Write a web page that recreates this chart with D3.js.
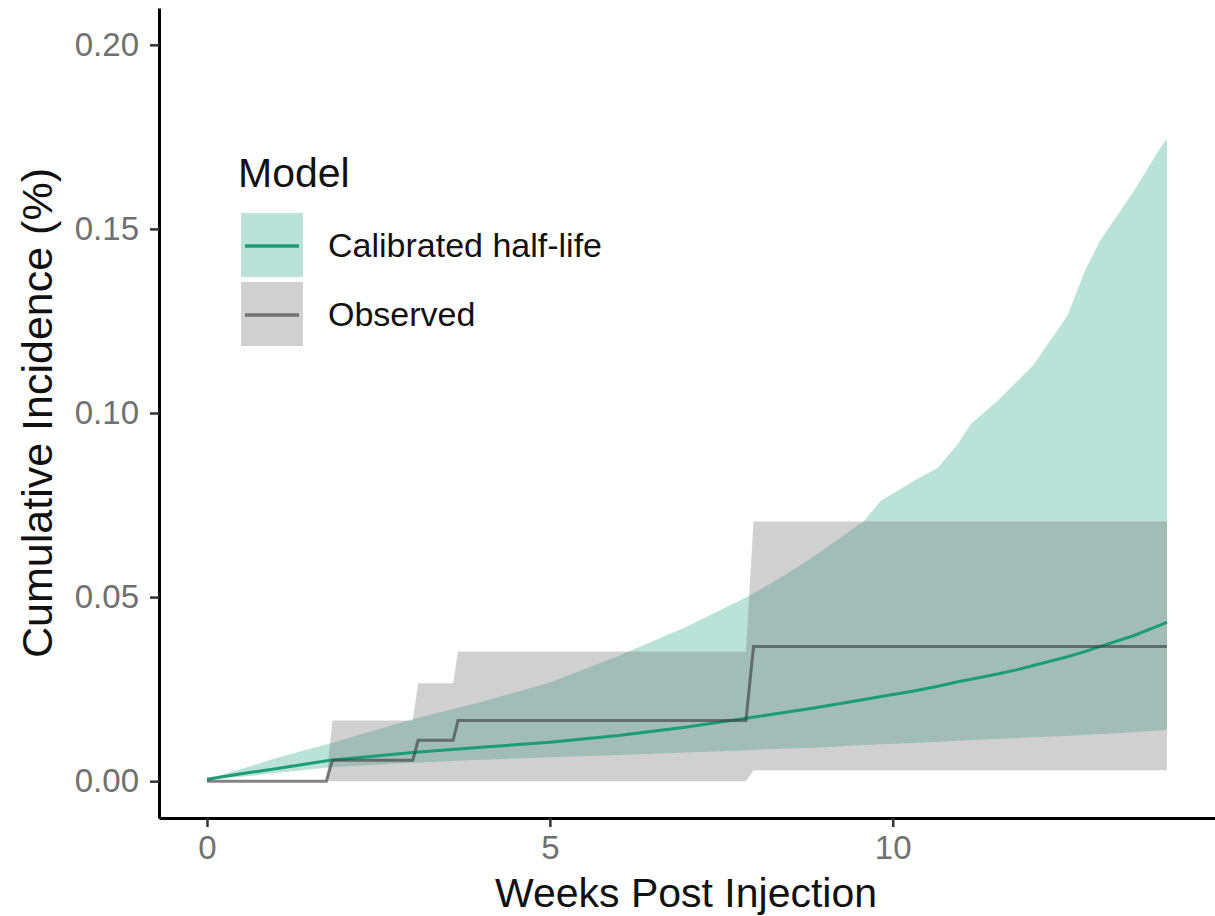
<!DOCTYPE html>
<html>
<head>
<meta charset="utf-8">
<script src="https://cdn.jsdelivr.net/npm/d3@7"></script>
<style>
  html, body { margin: 0; padding: 0; background: #ffffff; }
  svg { display: block; font-family: "Liberation Sans", Arial, sans-serif; }
</style>
</head>
<body>
<svg id="chart" width="1215" height="916"></svg>
<script>
// Observed cumulative incidence (step estimate with confidence band), weeks
const obsWeeks = [0, 1.74, 1.83, 3.0, 3.08, 3.59, 3.66, 7.86, 7.97, 14];
const obsEstimate = [0, 0, 0.0057, 0.0057, 0.0111, 0.0111, 0.0165, 0.0165, 0.0366, 0.0366];
const obsLower = [0, 0, 0, 0, 0, 0, 0, 0, 0.003, 0.003];
const obsUpper = [0, 0, 0.0165, 0.0165, 0.0266, 0.0266, 0.0352, 0.0352, 0.0705, 0.0705];

// Calibrated half-life model: mean projection and interval
const modelWeeks = [0, 0.5, 1, 1.8, 3, 4, 5, 6, 7, 7.86, 8.37, 8.85, 9.58, 9.83, 10.31, 10.66, 10.95, 11.14, 11.53, 11.82, 12.05, 12.55, 12.8, 13.03, 13.51, 13.9, 14];
const modelMean = [0.0005, 0.0020, 0.0034, 0.0057, 0.0078, 0.0092, 0.0106, 0.0124, 0.0147, 0.0171, 0.0185, 0.0199, 0.0222, 0.0230, 0.0245, 0.0258, 0.0270, 0.0277, 0.0291, 0.0303, 0.0314, 0.0338, 0.0352, 0.0366, 0.0395, 0.0424, 0.0432];
const modelLower = [0.0005, 0.0012, 0.0022, 0.0038, 0.0050, 0.0058, 0.0065, 0.0071, 0.0078, 0.0084, 0.0088, 0.0091, 0.0098, 0.0100, 0.0104, 0.0107, 0.0110, 0.0111, 0.0115, 0.0117, 0.0119, 0.0123, 0.0126, 0.0128, 0.0133, 0.0138, 0.0140];
const modelUpper = [0.0005, 0.0033, 0.0062, 0.0103, 0.0168, 0.0215, 0.0268, 0.0340, 0.0420, 0.0499, 0.0553, 0.0610, 0.0707, 0.0762, 0.0816, 0.0851, 0.0916, 0.0970, 0.1033, 0.1087, 0.1130, 0.1265, 0.1385, 0.1470, 0.1600, 0.1720, 0.1745];

const xTicks = [0, 5, 10];
const yTicks = [0, 0.05, 0.10, 0.15, 0.20];
const legendLabels = ["Calibrated half-life", "Observed"];

const svg = d3.select("#chart");

const x = d3.scaleLinear().domain([-0.7, 14.7]).range([159, 1215]);
const y = d3.scaleLinear().domain([-0.01, 0.21]).range([818, 8]);

const colModel = "#1b9e77";
const colObsFill = "#757575";
const colObsLine = "#404040";

const modelData = modelWeeks.map((t, i) => ({ t, m: modelMean[i], lo: modelLower[i], hi: modelUpper[i] }));
const obsData = obsWeeks.map((t, i) => ({ t, m: obsEstimate[i], lo: obsLower[i], hi: obsUpper[i] }));

const band = d3.area().x(d => x(d.t)).y0(d => y(d.lo)).y1(d => y(d.hi));
const mid = d3.line().x(d => x(d.t)).y(d => y(d.m));

// Ribbons
svg.append("path").datum(modelData).attr("d", band)
  .attr("fill", colModel).attr("fill-opacity", 0.3);
svg.append("path").datum(obsData).attr("d", band)
  .attr("fill", colObsFill).attr("fill-opacity", 0.34);

// Lines
svg.append("path").datum(modelData).attr("d", mid)
  .attr("fill", "none").attr("stroke", colModel).attr("stroke-width", 3);
svg.append("path").datum(obsData).attr("d", mid)
  .attr("fill", "none").attr("stroke", colObsLine).attr("stroke-opacity", 0.65)
  .attr("stroke-width", 3);

// Axes
const yAxis = d3.axisLeft(y).tickValues(yTicks).tickFormat(d3.format(".2f"))
  .tickSize(9).tickSizeOuter(0).tickPadding(11);
const xAxis = d3.axisBottom(x).tickValues(xTicks).tickFormat(d3.format("d"))
  .tickSize(9).tickSizeOuter(0).tickPadding(9);

const gy = svg.append("g").attr("transform", "translate(159,0)").call(yAxis);
const gx = svg.append("g").attr("transform", "translate(0,818)").call(xAxis);

[gx, gy].forEach(g => {
  g.select(".domain").attr("stroke", "#000").attr("stroke-width", 3);
  g.selectAll(".tick line").attr("stroke", "#333").attr("stroke-width", 2.5);
  g.selectAll(".tick text").attr("fill", "#707070")
    .style("font-size", "33px").style("font-family", "'Liberation Sans', Arial, sans-serif");
});

// Axis titles
svg.append("text").attr("x", 686).attr("y", 907).attr("text-anchor", "middle")
  .attr("fill", "#111").style("font-size", "41px").text("Weeks Post Injection");
svg.append("text").attr("transform", "translate(52,413) rotate(-90)")
  .attr("text-anchor", "middle").attr("fill", "#111").style("font-size", "43px")
  .text("Cumulative Incidence (%)");

// Legend
const lg = svg.append("g");
lg.append("text").attr("x", 238).attr("y", 187).attr("fill", "#111")
  .style("font-size", "41px").text("Model");
const keyFill = [{ c: colModel, o: 0.3 }, { c: colObsFill, o: 0.34 }];
const keyLine = [{ c: colModel, o: 1 }, { c: colObsLine, o: 0.65 }];
legendLabels.forEach((lab, i) => {
  const top = 213 + i * 69;
  lg.append("rect").attr("x", 241).attr("y", top).attr("width", 62).attr("height", 64)
    .attr("fill", keyFill[i].c).attr("fill-opacity", keyFill[i].o);
  lg.append("line").attr("x1", 245).attr("x2", 299).attr("y1", top + 33).attr("y2", top + 33)
    .attr("stroke", keyLine[i].c).attr("stroke-opacity", keyLine[i].o).attr("stroke-width", 3.5);
  lg.append("text").attr("x", 328).attr("y", top + 44).attr("fill", "#111")
    .style("font-size", "34px").text(lab);
});
</script>
</body>
</html>
